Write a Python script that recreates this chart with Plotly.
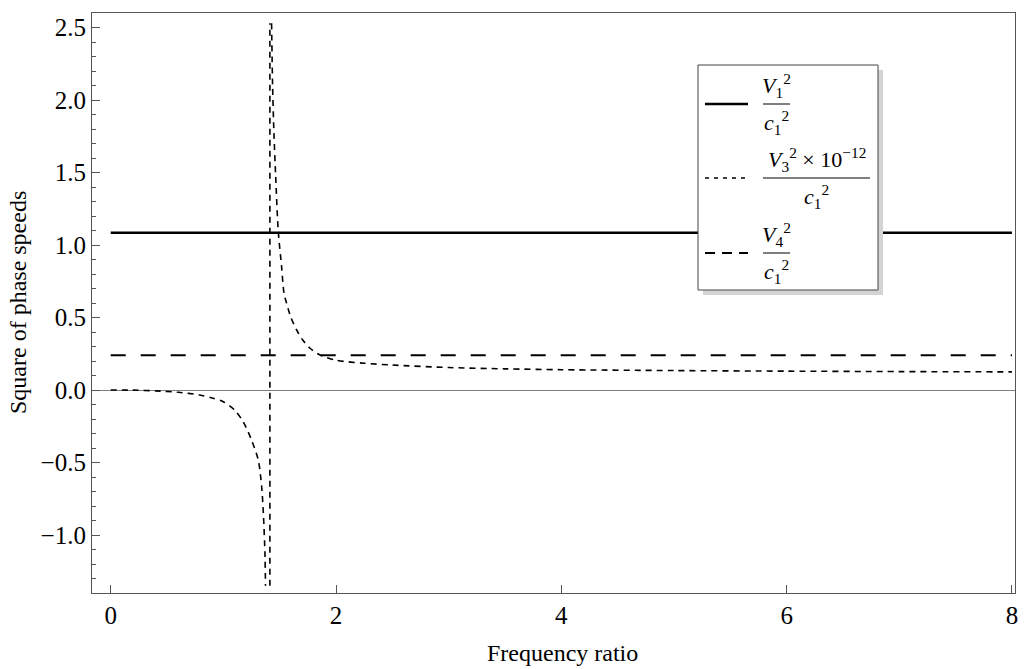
import plotly.graph_objects as go

# ---------------- data ----------------
flat_x = [0.0, 8.0]
v1_level = [1.085, 1.085]          # V1^2 / c1^2
v4_level = [0.24, 0.24]            # V4^2 / c1^2

# V3^2 x 1e-12 / c1^2  (left branch, jump, right branch)
v3_left_x = [0.0, 0.2, 0.4, 0.6, 0.79, 0.9, 1.0, 1.1, 1.176, 1.25, 1.31, 1.34, 1.355, 1.369, 1.374]
v3_left_y = [0.0, -0.001, -0.006, -0.016, -0.034, -0.055, -0.081, -0.138, -0.219, -0.345, -0.483,
             -0.667, -0.85, -1.12, -1.35]
v3_jump_x = [1.413, 1.413]
v3_jump_y = [-1.35, 2.53]
v3_right_x = [1.428, 1.437, 1.449, 1.464, 1.487, 1.517, 1.538, 1.561, 1.6, 1.65, 1.7, 1.769, 1.858,
              2.0, 2.25, 2.5, 3.0, 3.5, 4.0, 5.0, 6.0, 7.0, 8.0]
v3_right_y = [2.53, 2.1, 1.77, 1.48, 1.10, 0.85, 0.669, 0.598, 0.5, 0.414, 0.35, 0.288, 0.241,
              0.205, 0.185, 0.172, 0.155, 0.146, 0.140, 0.134, 0.130, 0.127, 0.125]

x_ticks = [0, 2, 4, 6, 8]
y_ticks = [-1.0, -0.5, 0.0, 0.5, 1.0, 1.5, 2.0, 2.5]
y_tick_text = ["\u22121.0", "\u22120.5", "0.0", "0.5", "1.0", "1.5", "2.0", "2.5"]

x_title = "Frequency ratio"
y_title = "Square of phase speeds"
legend_num = ["<i>V</i><sub>1</sub><sup>2</sup>",
              "<i>V</i><sub>3</sub><sup>2</sup> \u00d7 10<sup>\u221212</sup>",
              "<i>V</i><sub>4</sub><sup>2</sup>"]
legend_den = ["<i>c</i><sub>1</sub><sup>2</sup>"] * 3

# ---------------- styling ----------------
FONT = "Liberation Serif"
FRAME = "#555555"
W, H = 1025, 669
ML, MR, MT, MB = 92, 10, 13, 76

V1_STYLE = dict(color="black", width=2.6)
V3_STYLE = dict(color="black", width=1.6, dash="6px,5px", shape="spline", smoothing=0.8)
V4_STYLE = dict(color="black", width=2.0, dash="15px,15px")


def px(x):
    return (x - ML) / (W - ML - MR)


def py(y):
    return (H - MB - y) / (H - MT - MB)


fig = go.Figure()
fig.add_trace(go.Scatter(x=flat_x, y=v1_level, mode="lines", line=V1_STYLE, hoverinfo="skip"))
fig.add_trace(go.Scatter(x=flat_x, y=v4_level, mode="lines", line=V4_STYLE, hoverinfo="skip"))
for xs, ys in [(v3_left_x, v3_left_y), (v3_jump_x, v3_jump_y), (v3_right_x, v3_right_y)]:
    fig.add_trace(go.Scatter(x=xs, y=ys, mode="lines", line=V3_STYLE, hoverinfo="skip"))

shapes = []
annotations = []

# legend box with drop shadow
bx0, by0, bx1, by1 = 698, 65, 878, 290
shapes.append(dict(type="rect", xref="paper", yref="paper",
                   x0=px(bx0 + 5), x1=px(bx1 + 5), y0=py(by1 + 5), y1=py(by0 + 5),
                   fillcolor="#d4d4d4", line=dict(width=0), layer="above"))
shapes.append(dict(type="rect", xref="paper", yref="paper",
                   x0=px(bx0), x1=px(bx1), y0=py(by1), y1=py(by0),
                   fillcolor="white", line=dict(color="#444444", width=1), layer="above"))

legend_rows = [104, 178, 253]
legend_line_styles = [dict(color="black", width=2.6),
                      dict(color="black", width=1.6, dash="4px,5px"),
                      dict(color="black", width=2.0, dash="10px,7px")]
bar_spans = [(763, 790), (763, 870), (763, 790)]
for i, yrow in enumerate(legend_rows):
    shapes.append(dict(type="line", xref="paper", yref="paper",
                       x0=px(705), x1=px(748), y0=py(yrow), y1=py(yrow),
                       line=legend_line_styles[i], layer="above"))
    b0, b1 = bar_spans[i]
    shapes.append(dict(type="line", xref="paper", yref="paper",
                       x0=px(b0), x1=px(b1), y0=py(yrow), y1=py(yrow),
                       line=dict(color="black", width=1), layer="above"))
    cx = (b0 + b1) / 2
    annotations.append(dict(xref="paper", yref="paper", x=px(cx), y=py(yrow - 1),
                            text=legend_num[i], showarrow=False, xanchor="center", yanchor="bottom",
                            font=dict(family=FONT, size=22, color="black")))
    annotations.append(dict(xref="paper", yref="paper", x=px(cx), y=py(yrow + 1),
                            text=legend_den[i], showarrow=False, xanchor="center", yanchor="top",
                            font=dict(family=FONT, size=22, color="black")))

# axis titles
annotations.append(dict(xref="paper", yref="paper", x=px(562), y=py(653), text=x_title,
                        showarrow=False, xanchor="center", yanchor="middle",
                        font=dict(family=FONT, size=24, color="black")))
annotations.append(dict(xref="paper", yref="paper", x=px(18), y=py(303), text=y_title,
                        showarrow=False, xanchor="center", yanchor="middle", textangle=-90,
                        font=dict(family=FONT, size=24, color="black")))

fig.update_layout(
    width=W, height=H,
    margin=dict(l=ML, r=MR, t=MT, b=MB, autoexpand=False),
    paper_bgcolor="white", plot_bgcolor="white",
    showlegend=False,
    shapes=shapes, annotations=annotations,
    font=dict(family=FONT, size=24, color="black"),
)
fig.update_xaxes(range=[-0.166, 8.027], tickvals=x_ticks, ticks="inside", ticklen=8,
                 tickcolor=FRAME, showline=True, linecolor=FRAME, linewidth=1.2, mirror=True,
                 showgrid=False, zeroline=False, automargin=False,
                 tickfont=dict(family=FONT, size=25, color="black"))
fig.update_yaxes(range=[-1.4, 2.6], tickvals=y_ticks, ticktext=y_tick_text, ticks="inside", ticklen=8,
                 tickcolor=FRAME, showline=True, linecolor=FRAME, linewidth=1.2, mirror=True,
                 showgrid=False, zeroline=True, zerolinecolor="#808080", zerolinewidth=1,
                 automargin=False,
                 minor=dict(dtick=0.1, tick0=0, ticks="inside", ticklen=4, tickcolor=FRAME),
                 tickfont=dict(family=FONT, size=25, color="black"))

fig.write_html("out.html",
               config={"displayModeBar": False},
               post_script="document.body.style.margin='0';document.body.style.padding='0';"
                           "document.body.style.overflow='hidden';")
